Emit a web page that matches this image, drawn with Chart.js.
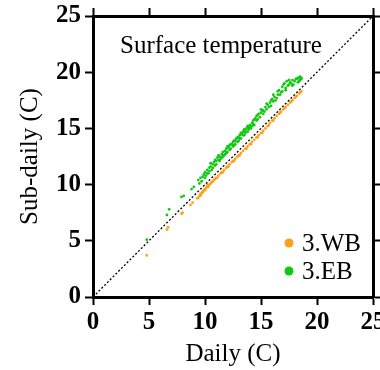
<!DOCTYPE html>
<html>
<head>
<meta charset="utf-8">
<script src="https://cdn.jsdelivr.net/npm/chart.js@4.4.1/dist/chart.umd.min.js"></script>
<style>
  body { margin: 0; background: #fff; }
  #wrap { width: 380px; height: 370px; }
</style>
</head>
<body>
<div id="wrap"><canvas id="chart" width="380" height="370"></canvas></div>
<script>
// 3.WB (orange) daily vs sub-daily
const wbX = [4.8, 6.6, 6.7, 7.9, 8.0, 8.7, 8.9, 9.3, 9.5, 9.6, 9.7, 9.8, 9.9, 10.0, 10.1, 10.2, 10.3, 10.4, 10.5, 10.6,
  10.7, 10.8, 10.9, 11.0, 11.2, 11.4, 11.5, 11.7, 11.9, 12.0, 12.2, 12.4, 12.5, 12.7, 12.9, 13.0, 13.2, 13.4, 13.6, 13.8,
  14.0, 14.2, 14.4, 14.6, 14.8, 15.0, 15.2, 15.4, 15.6, 15.8, 16.0, 16.2, 16.4, 16.6, 16.8, 17.0, 17.2, 17.4, 17.6, 17.8,
  18.0, 18.2, 18.4, 18.6,
  9.4, 9.6, 9.8, 10.0, 10.3, 10.2, 11.1, 11.6, 12.1, 12.6, 13.1, 13.7, 14.1, 14.7, 15.1, 15.7, 16.1, 16.7, 17.1, 17.7,
  18.1, 18.5];
const wbY = [3.7, 6.0, 6.2, 7.4, 7.5, 8.2, 8.4, 8.8, 9.0, 9.2, 9.2, 9.3, 9.5, 9.6, 9.7, 9.8, 9.9, 10.0, 10.1, 10.2,
  10.3, 10.4, 10.5, 10.6, 10.8, 11.0, 11.1, 11.3, 11.5, 11.6, 11.8, 12.0, 12.1, 12.3, 12.5, 12.6, 12.8, 13.0, 13.2, 13.4,
  13.6, 13.8, 14.0, 14.2, 14.4, 14.6, 14.8, 15.0, 15.2, 15.5, 15.7, 15.9, 16.1, 16.3, 16.5, 16.7, 16.9, 17.1, 17.3, 17.5,
  17.7, 17.9, 18.1, 18.3,
  8.8, 9.0, 9.4, 9.5, 9.8, 10.0, 10.6, 11.1, 11.6, 12.1, 12.6, 13.2, 13.6, 14.2, 14.6, 15.3, 15.7, 16.4, 16.8, 17.4,
  17.8, 18.2];

// 3.EB (green)
const ebX = [4.8, 6.6, 6.8, 7.9, 8.1, 8.8, 9.0, 9.4, 9.6, 9.7, 9.9, 10.0, 10.1, 10.2, 10.3, 10.4, 10.5, 10.6, 10.7, 10.8,
  10.9, 11.0, 11.1, 11.2, 11.3, 11.4, 11.5, 11.6, 11.7, 11.8, 11.9, 12.0, 12.1, 12.2, 12.3, 12.4, 12.5, 12.6, 12.7, 12.8,
  12.9, 13.0, 13.1, 13.2, 13.3, 13.4, 13.5, 13.6, 13.7, 13.8, 13.9, 14.0, 14.1, 14.2, 14.3, 14.4, 14.5, 14.6, 14.7, 14.8,
  15.0, 15.1, 15.2, 15.4, 15.5, 15.6, 15.8, 15.9, 16.0, 16.2, 16.3, 16.5, 16.6, 16.8, 16.9, 17.0, 17.2, 17.3, 17.5, 17.6,
  17.8, 17.9, 18.0, 18.2, 18.3, 18.4, 18.5, 18.6,
  9.5, 9.8, 10.0, 10.2, 10.4, 10.5, 10.7, 10.9, 11.0, 11.2, 11.3, 11.5, 11.6, 11.8, 11.9, 12.0, 12.2, 12.3, 12.5, 12.6,
  12.7, 12.9, 13.0, 13.1, 13.2, 13.4, 13.5, 13.6, 13.8, 13.9, 14.0, 14.2, 14.3, 14.4, 14.6, 14.7, 14.9, 15.0, 15.2, 15.3,
  15.5, 15.7, 15.9, 16.1, 16.1, 16.4, 16.5, 16.7, 16.9, 17.1, 17.2, 17.4, 17.5, 17.7, 17.8, 18.1, 18.3, 18.5, 18.6, 18.4];
const ebY = [5.1, 7.3, 7.8, 8.9, 9.0, 9.6, 9.8, 10.4, 10.6, 10.3, 10.9, 11.1, 10.8, 11.3, 11.0, 11.5, 11.6, 11.3, 11.8, 12.0,
  11.7, 12.1, 12.4, 12.2, 12.5, 12.3, 12.7, 12.9, 12.6, 13.0, 13.2, 12.9, 13.3, 13.5, 13.2, 13.6, 13.8, 13.5, 13.9, 14.1,
  13.8, 14.2, 14.4, 14.1, 14.5, 14.7, 14.4, 14.8, 15.0, 14.7, 15.1, 15.3, 15.0, 15.5, 15.7, 15.3, 15.9, 16.1, 15.8, 16.3,
  16.4, 16.6, 16.3, 16.9, 16.7, 17.1, 17.3, 17.0, 17.6, 17.8, 17.5, 18.0, 18.4, 18.2, 18.7, 18.9, 18.6, 19.2, 18.9, 19.1,
  19.3, 18.9, 19.2, 19.4, 19.1, 19.5, 19.3, 19.5,
  10.1, 10.7, 10.6, 11.0, 11.2, 11.9, 11.5, 12.2, 11.8, 12.6, 12.1, 12.4, 12.5, 12.7, 12.8, 13.4, 13.1, 13.6, 13.4, 13.9,
  13.6, 14.2, 13.9, 14.1, 14.6, 14.4, 14.9, 14.6, 15.2, 14.9, 15.1, 15.2, 15.4, 15.8, 15.7, 16.2, 16.0, 16.7, 16.6, 16.5,
  17.2, 16.9, 17.5, 17.4, 18.0, 17.7, 18.3, 18.0, 18.3, 19.0, 18.4, 18.8, 19.3, 19.0, 18.8, 19.4, 19.5, 19.6, 19.4, 19.2];

const axisTicks = [0, 5, 10, 15, 20, 25];
const seriesNames = ['3.WB', '3.EB'];
const seriesColors = ['#ffa01a', '#11c811'];

const toPoints = (xs, ys) => xs.map((x, i) => ({ x: x, y: ys[i] }));

const serif = 'Liberation Serif, Times New Roman, serif';

// title + legend drawn inside the plot box
const insideText = {
  id: 'insideText',
  afterDatasetsDraw(chart) {
    const { ctx, chartArea } = chart;
    ctx.save();
    ctx.fillStyle = '#000';
    ctx.font = '25px ' + serif;
    ctx.textBaseline = 'alphabetic';
    ctx.textAlign = 'left';
    ctx.fillText('Surface temperature', chartArea.left + 27, chartArea.top + 37);

    seriesNames.forEach((name, i) => {
      const cy = chartArea.bottom - 54 + i * 28;
      ctx.beginPath();
      ctx.fillStyle = seriesColors[i];
      ctx.arc(chartArea.right - 84, cy, 4.5, 0, Math.PI * 2);
      ctx.fill();
      ctx.fillStyle = '#000';
      ctx.fillText(name, chartArea.right - 71, cy + 8);
    });
    ctx.restore();
  }
};

const frameAxis = (position, size) => ({
  type: 'linear',
  position: position,
  min: 0,
  max: 25,
  afterBuildTicks: (s) => { s.ticks = axisTicks.map(v => ({ value: v })); },
  afterFit: (s) => {
    if (position === 'left' || position === 'right') s.width = size; else s.height = size;
    // no room kept for overhanging labels (reference clips the last "25")
    s.paddingLeft = 0; s.paddingRight = 0; s.paddingTop = 0; s.paddingBottom = 0;
  },
  border: { display: true, width: 3, color: '#000' },
  grid: { drawOnChartArea: false, drawTicks: true, tickLength: 8, tickWidth: 2, tickColor: '#000' },
  ticks: {
    display: position === 'left' || position === 'bottom',
    color: '#000',
    padding: 4,
    font: { family: serif, size: 25, weight: 'bold' }
  }
});

const xAxis = frameAxis('bottom', 73);
xAxis.ticks.padding = 3;
xAxis.title = { display: true, text: 'Daily (C)', color: '#000', padding: { top: 0, bottom: 1 },
  font: { family: serif, size: 25 } };
const yAxis = frameAxis('left', 93);
yAxis.title = { display: true, text: 'Sub-daily (C)', color: '#000', padding: { top: 15, bottom: 0 },
  font: { family: serif, size: 25 } };

new Chart(document.getElementById('chart'), {
  type: 'scatter',
  data: {
    datasets: [
      {
        type: 'line',
        label: '1:1',
        data: [{ x: 0, y: 0 }, { x: 25, y: 25 }],
        borderColor: '#000',
        borderWidth: 1.3,
        borderDash: [2, 2],
        pointRadius: 0,
        order: 0
      },
      {
        label: seriesNames[0],
        data: toPoints(wbX, wbY),
        backgroundColor: seriesColors[0],
        borderWidth: 0,
        pointRadius: 1.4,
        order: 2
      },
      {
        label: seriesNames[1],
        data: toPoints(ebX, ebY),
        backgroundColor: seriesColors[1],
        borderWidth: 0,
        pointRadius: 1.4,
        order: 1
      }
    ]
  },
  options: {
    responsive: false,
    animation: false,
    layout: { padding: 0 },
    plugins: {
      legend: { display: false },
      tooltip: { enabled: false }
    },
    scales: {
      x: xAxis,
      y: yAxis,
      x2: frameAxis('top', 16),
      y2: frameAxis('right', 7)
    }
  },
  plugins: [insideText]
});
</script>
</body>
</html>
